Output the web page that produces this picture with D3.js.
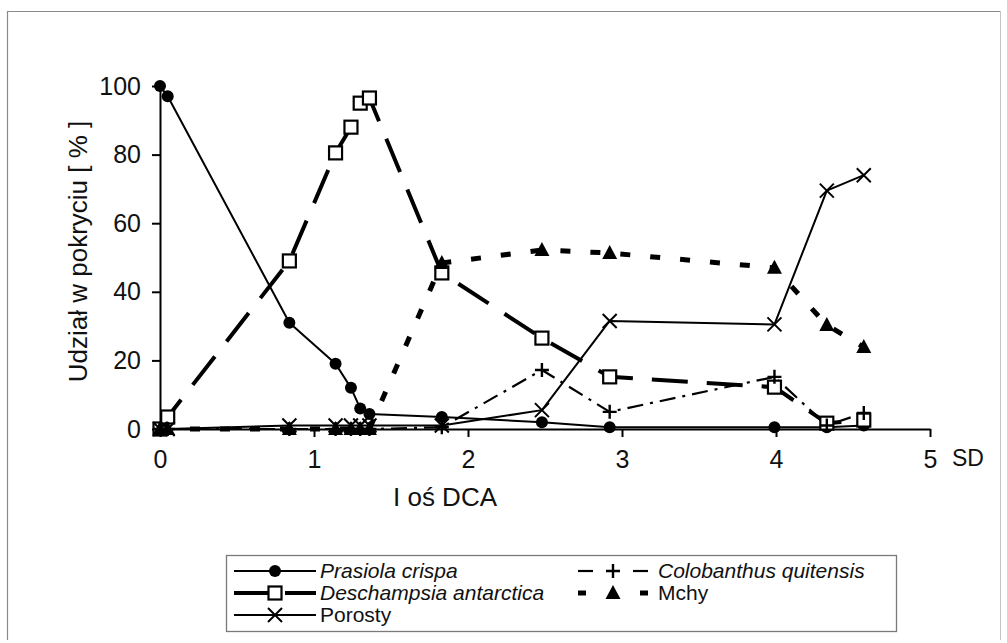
<!DOCTYPE html>
<html>
<head>
<meta charset="utf-8">
<script src="https://cdn.jsdelivr.net/npm/d3@7"></script>
<style>
  html, body { margin: 0; padding: 0; background: #fff; }
  svg { display: block; font-family: "Liberation Sans", Arial, sans-serif; }
</style>
</head>
<body>
<svg id="chart" width="1007" height="643"></svg>
<script>
// DCA axis I positions of the sampled plots (SD units)
const sdPositions = [0, 0.05, 0.84, 1.14, 1.24, 1.30, 1.36, 1.83, 2.48, 2.92, 3.99, 4.33, 4.57];

// Cover share (%) of each group along the gradient
const prasiolaCrispa        = [100, 97, 31, 19, 12, 6, 4.4, 3.5, 2, 0.5, 0.5, 0.5, 1];
const deschampsiaAntarctica = [0, 3.5, 49, 80.5, 88, 95, 96.5, 45.5, 26.5, 15.2, 12.2, 1.7, 2.6];
const colobanthusQuitensis  = [0, 0, 0, 0, 0, 0, 0, 0.5, 17.2, 5, 15.2, 1, 4.7];
const mchy                  = [0, 0, 0, 0, 0, 0, 0, 48.4, 52.2, 51.3, 47, 30.3, 23.9];
const porosty               = [0, 0, 1, 1, 1, 1, 1, 1, 5.5, 31.5, 30.5, 69.5, 74];

const xTicks = [0, 1, 2, 3, 4, 5];
const yTicks = [0, 20, 40, 60, 80, 100];

const yTitle = "Udział w pokryciu [ % ]";
const xTitle = "I oś DCA";
const xUnit = "SD";

const series = [
  { name: "Prasiola crispa", italic: true, values: prasiolaCrispa,
    width: 2, dash: null, marker: "circle" },
  { name: "Deschampsia antarctica", italic: true, values: deschampsiaAntarctica,
    width: 4, dash: "36,19", marker: "square" },
  { name: "Colobanthus quitensis", italic: true, values: colobanthusQuitensis,
    width: 2.2, dash: "16,7,3,7", marker: "plus" },
  { name: "Mchy", italic: false, values: mchy,
    width: 5, dash: "10,20", marker: "triangle" },
  { name: "Porosty", italic: false, values: porosty,
    width: 2, dash: null, marker: "cross" }
];

const svg = d3.select("#chart");

// outer frame
svg.append("path")
  .attr("d", "M7.5,640 V11.5 H1000.5")
  .attr("fill", "none").attr("stroke", "#8a8a8a").attr("stroke-width", 1.2);
svg.append("path")
  .attr("d", "M1000.5,11.5 V640")
  .attr("fill", "none").attr("stroke", "#c4c4c4").attr("stroke-width", 1);

const x = d3.scaleLinear().domain([0, 5]).range([160, 930]);
const y = d3.scaleLinear().domain([0, 100]).range([429, 86]);

// axes
const yAxis = svg.append("g")
  .attr("transform", `translate(${x(0)},0)`)
  .call(d3.axisLeft(y).tickValues(yTicks).tickSize(8).tickPadding(11).tickSizeOuter(0));
const xAxis = svg.append("g")
  .attr("transform", `translate(0,${y(0)})`)
  .call(d3.axisBottom(x).tickValues(xTicks).tickFormat(d3.format("d"))
    .tickSize(8).tickPadding(13).tickSizeOuter(0));

[yAxis, xAxis].forEach(g => {
  g.select(".domain").attr("stroke", "#000").attr("stroke-width", 2);
  g.selectAll(".tick line").attr("stroke", "#000").attr("stroke-width", 2);
  g.selectAll(".tick text").attr("fill", "#111").style("font-size", "25px")
    .style("font-family", "'Liberation Sans', Arial, sans-serif");
});

// unit label next to the last x tick
svg.append("text")
  .attr("x", x(5) + 22).attr("y", y(0) + 21).attr("dy", "0.71em")
  .attr("fill", "#111").style("font-size", "23px")
  .text(xUnit);

// axis titles
svg.append("text")
  .attr("transform", `translate(78,${(y(0) + y(100)) / 2 - 6}) rotate(-90)`)
  .attr("text-anchor", "middle").attr("dy", "0.35em")
  .attr("fill", "#111").style("font-size", "26px")
  .text(yTitle);
svg.append("text")
  .attr("x", 445).attr("y", 497).attr("text-anchor", "middle").attr("dy", "0.35em")
  .attr("fill", "#111").style("font-size", "26px")
  .text(xTitle);

// marker drawing
function drawMarker(g, type) {
  if (type === "circle") {
    g.append("circle").attr("r", 6).attr("fill", "#000");
  } else if (type === "square") {
    g.append("rect").attr("x", -6.5).attr("y", -6.5).attr("width", 13).attr("height", 13)
      .attr("fill", "#fff").attr("stroke", "#000").attr("stroke-width", 2.2);
  } else if (type === "triangle") {
    g.append("path").attr("d", "M0,-8 L7.5,6 L-7.5,6 Z").attr("fill", "#000");
  } else if (type === "cross") {
    g.append("path").attr("d", "M-7,-7 L7,7 M-7,7 L7,-7")
      .attr("stroke", "#000").attr("stroke-width", 2).attr("fill", "none");
  } else if (type === "plus") {
    g.append("path").attr("d", "M-7,0 L7,0 M0,-7 L0,7")
      .attr("stroke", "#000").attr("stroke-width", 2.4).attr("fill", "none");
  }
}

const line = d3.line().x(d => x(d[0])).y(d => y(d[1]));

const plot = svg.append("g");
series.forEach(s => {
  const pts = sdPositions.map((p, i) => [p, s.values[i]]);
  plot.append("path")
    .datum(pts)
    .attr("d", line)
    .attr("fill", "none")
    .attr("stroke", "#000")
    .attr("stroke-width", s.width)
    .attr("stroke-dasharray", s.dash)
    .attr("stroke-linejoin", "round");
});
series.forEach(s => {
  const pts = sdPositions.map((p, i) => [p, s.values[i]]);
  plot.append("g").selectAll("g")
    .data(pts).join("g")
    .attr("transform", d => `translate(${x(d[0])},${y(d[1])})`)
    .each(function () { drawMarker(d3.select(this), s.marker); });
});

// legend
const legend = svg.append("g");
legend.append("rect")
  .attr("x", 226.5).attr("y", 555.5).attr("width", 670).attr("height", 76)
  .attr("fill", "#fff").attr("stroke", "#7a7a7a").attr("stroke-width", 1.3);

const legendSlots = [
  { s: series[0], x0: 234, x1: 316, tx: 320, cy: 571 },
  { s: series[1], x0: 234, x1: 316, tx: 320, cy: 593 },
  { s: series[4], x0: 234, x1: 316, tx: 320, cy: 615 },
  { s: series[2], x0: 578, x1: 648, tx: 658, cy: 571 },
  { s: series[3], x0: 578, x1: 648, tx: 658, cy: 593 }
];
legendSlots.forEach(d => {
  const mid = (d.x0 + d.x1) / 2;
  let segs;
  if (d.s.marker === "plus") segs = [[d.x0, d.x0 + 15], [d.x1 - 15, d.x1]];
  else if (d.s.marker === "triangle") segs = [[d.x0, d.x0 + 8], [d.x1 - 8, d.x1]];
  else if (d.s.marker === "square") segs = [[d.x0, mid - 6], [mid + 10, d.x1]];
  else segs = [[d.x0, d.x1]];
  segs.forEach(sg => {
    legend.append("line")
      .attr("x1", sg[0]).attr("x2", sg[1]).attr("y1", d.cy).attr("y2", d.cy)
      .attr("stroke", "#000").attr("stroke-width", d.s.width);
  });
  const mg = legend.append("g").attr("transform", `translate(${mid},${d.cy})`);
  drawMarker(mg, d.s.marker);
  legend.append("text")
    .attr("x", d.tx).attr("y", d.cy).attr("dy", "0.35em")
    .attr("fill", "#111").style("font-size", "21px")
    .style("font-style", d.s.italic ? "italic" : "normal")
    .text(d.s.name);
});
</script>
</body>
</html>
